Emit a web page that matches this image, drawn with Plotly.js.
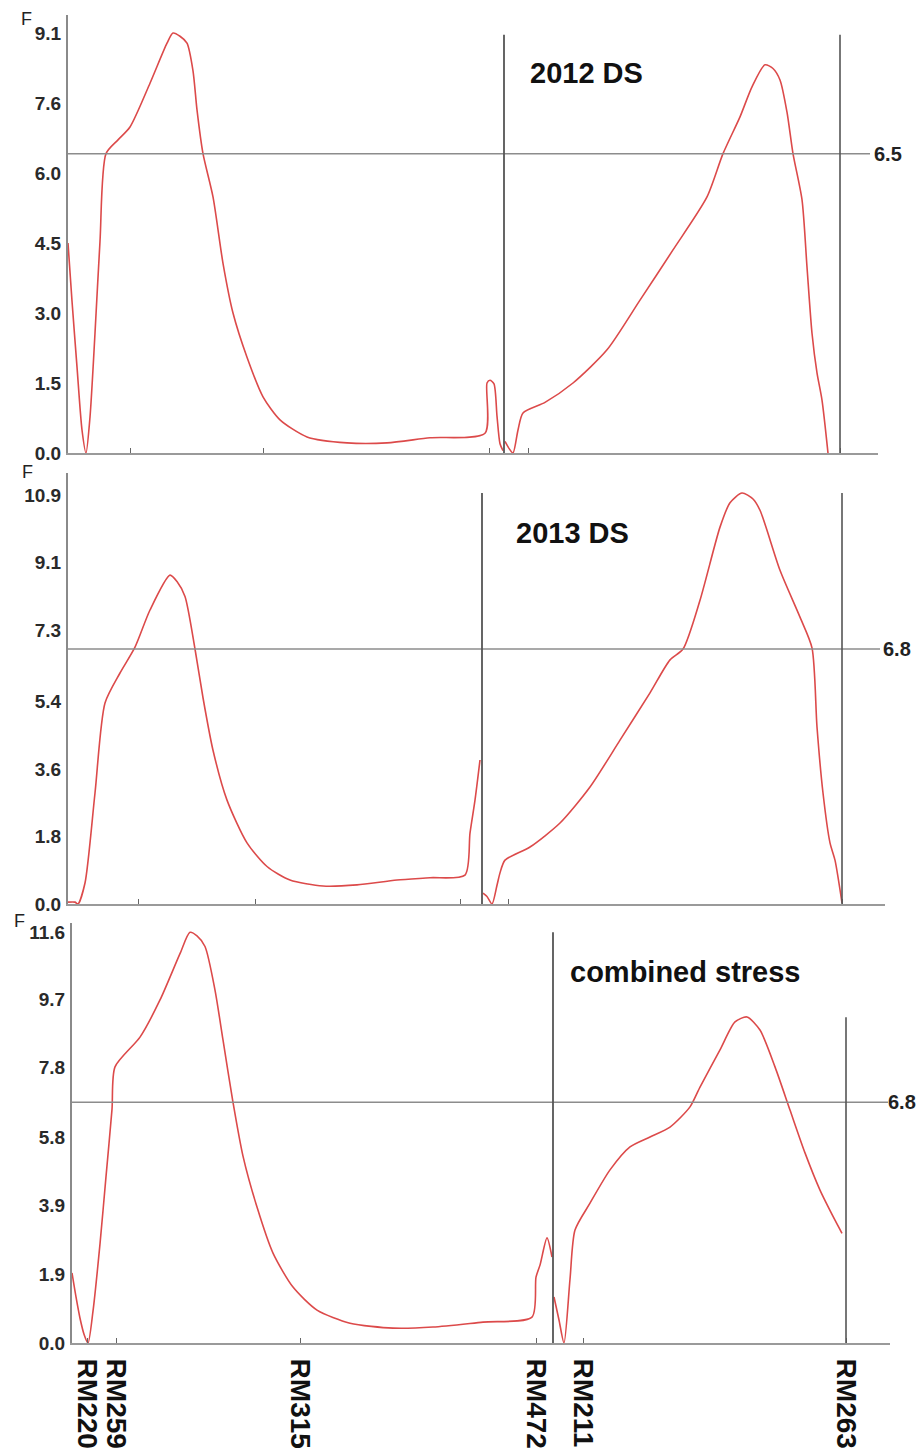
<!DOCTYPE html>
<html>
<head>
<meta charset="utf-8">
<script src="https://cdn.plot.ly/plotly-3.0.1.min.js"></script>
<style>html,body{margin:0;padding:0;background:#fff;}#chart{width:921px;height:1450px;}</style>
</head>
<body>
<div id="chart"></div>
<script>
// ---- Data (positions in cM along the scanned linkage groups, F statistic) ----
const markers = ["RM220", "RM259", "RM315", "RM472", "RM211", "RM263"];
const markerPos2012 = [0, 15.5, 48.75, 105.25, 115, 193];
const markerPos2013 = [0, 17.5, 46.75, 98, 110, 193.5];
const markerPosComb = [3.75, 11, 57, 116, 127.75, 193.5];

const panelNames = ["2012 DS", "2013 DS", "combined stress"];
const thresholds = [6.5, 6.8, 6.8];
const boundaryPos = [109, 103.5, 120.25];

const yTicks2012 = [0, 1.52, 3.04, 4.56, 6.08, 7.6, 9.12];
const yTickText2012 = ["0.0", "1.5", "3.0", "4.5", "6.0", "7.6", "9.1"];
const yTicks2013 = [0, 1.8, 3.6, 5.4, 7.3, 9.1, 10.9];
const yTickText2013 = ["0.0", "1.8", "3.6", "5.4", "7.3", "9.1", "10.9"];
const yTicksComb = [0, 1.95, 3.9, 5.8, 7.8, 9.7, 11.6];
const yTickTextComb = ["0.0", "1.9", "3.9", "5.8", "7.8", "9.7", "11.6"];

// 2012 DS
const pos2012A = [0, 1, 2.25, 3.5, 4.5, 5.5, 6.75, 8, 9.5, 12.5, 15.5, 20.5, 24.75, 26.25, 28, 29.75, 31.25, 32.25, 33.75, 36.25, 38.75, 41.25, 44.75, 48.75, 53, 59.75, 69.75, 79.75, 90.5, 104.25, 104.75, 105.5, 106.5, 107.25, 108, 108.75];
const f2012A   = [4.56, 3.3, 1.87, 0.5, 0, 0.78, 2.6, 4.6, 6.5, 6.8, 7.08, 8.03, 8.9, 9.12, 9.05, 8.9, 8.3, 7.45, 6.5, 5.56, 4.12, 3.04, 2.08, 1.22, 0.72, 0.35, 0.22, 0.22, 0.33, 0.43, 1.52, 1.58, 1.5, 0.8, 0.2, 0.05];
const pos2012B = [109.25, 110.25, 111.25, 112.5, 113.75, 119.25, 126.25, 134.75, 143, 151.25, 159.75, 163.75, 168, 171, 174.25, 176.25, 178, 179.75, 181.25, 183.5, 184.75, 186, 187.25, 188.5, 190];
const f2012B   = [0.25, 0.1, 0, 0.5, 0.87, 1.1, 1.52, 2.24, 3.32, 4.41, 5.56, 6.5, 7.3, 7.95, 8.43, 8.35, 8.1, 7.4, 6.5, 5.5, 4.04, 2.6, 1.74, 1.15, 0];

// 2013 DS
const pos2013A = [0, 1.75, 2.5, 4.25, 6.75, 9.25, 13, 16.75, 20.5, 25.5, 27.25, 29.25, 31.75, 33.75, 36.25, 39.75, 44.75, 49.75, 55.5, 63.75, 72.25, 82.25, 90.5, 99.25, 100.5, 101.75, 103];
const f2013A   = [0.05, 0.05, 0, 0.56, 2.96, 5.36, 6.16, 6.85, 7.84, 8.77, 8.6, 8.2, 6.8, 5.5, 4.1, 2.77, 1.63, 1.0, 0.64, 0.48, 0.51, 0.64, 0.7, 0.77, 1.89, 2.77, 3.84];
const pos2013B = [103.75, 104.75, 106, 107.25, 108, 109.25, 115.5, 123, 130.5, 138, 145.5, 150.5, 153.75, 158, 163, 165.5, 168.5, 171.25, 173, 178, 183, 186, 187.25, 188.75, 190.5, 191.75, 193.5];
const f2013B   = [0.29, 0.2, 0, 0.5, 0.83, 1.17, 1.52, 2.16, 3.12, 4.37, 5.63, 6.51, 6.8, 8.1, 10.05, 10.7, 10.96, 10.8, 10.5, 8.9, 7.65, 6.83, 4.72, 2.96, 1.63, 1.17, 0.03];

// combined stress
const posCombA = [0, 1, 2, 3, 4, 5.25, 7, 8.5, 10, 10.75, 17, 22, 27, 29.5, 31.25, 33.25, 35.75, 37.75, 40.25, 42.75, 46.25, 50.25, 55.25, 61.25, 69.5, 80.25, 90.25, 102.75, 115, 116, 117, 118.75, 120];
const fCombA   = [1.98, 1.3, 0.7, 0.25, 0, 0.9, 2.8, 4.7, 6.6, 7.8, 8.64, 9.69, 11.0, 11.6, 11.5, 11.2, 9.97, 8.56, 6.8, 5.28, 3.84, 2.54, 1.58, 0.93, 0.56, 0.42, 0.45, 0.59, 0.73, 1.86, 2.2, 2.97, 2.43];
const posCombB = [120.5, 121.75, 123, 124.5, 125.75, 129.5, 134.5, 139.5, 144.5, 149.5, 154.5, 157, 162, 165.75, 168.75, 172, 175.75, 179.5, 183.25, 187, 190.75, 192.5];
const fCombB   = [1.3, 0.65, 0, 1.8, 3.19, 3.95, 4.89, 5.54, 5.82, 6.1, 6.67, 7.23, 8.28, 9.07, 9.21, 8.84, 7.8, 6.58, 5.37, 4.32, 3.47, 3.1];

// ---- Layout geometry (pixels of the 921x1450 page) ----
const W = 921, H = 1450;
const geo = [
  {x0: 68, x1: 878, yb: 453, yt: 15, ppu: 46.05, thrEnd: 200.5, divTop: 9.08, endTop: 9.08, lblX: 872, titleX: 586, titleY: 73, fX: 26, fY: 19},
  {x0: 68, x1: 885, yb: 904, yt: 473, ppu: 37.5, thrEnd: 203, divTop: 10.96, endTop: 10.96, lblX: 881, titleX: 572, titleY: 533, fX: 27, fY: 472},
  {x0: 72, x1: 890, yb: 1343, yt: 923, ppu: 35.4, thrEnd: 204, divTop: 11.6, endTop: 9.2, lblX: 886, titleX: 685, titleY: 972, fX: 19, fY: 921}
];
const xPerPx = 0.25;

const series = [
  [[pos2012A, f2012A], [pos2012B, f2012B]],
  [[pos2013A, f2013A], [pos2013B, f2013B]],
  [[posCombA, fCombA], [posCombB, fCombB]]
];
const markerPos = [markerPos2012, markerPos2013, markerPosComb];
const yT = [[yTicks2012, yTickText2012], [yTicks2013, yTickText2013], [yTicksComb, yTickTextComb]];

const FONT = "Liberation Sans, Arial, sans-serif";
const red = "#dc4a4a";
const traces = [];
const shapes = [];
const annotations = [];
const layout = {
  width: W, height: H,
  margin: {l: 0, r: 0, t: 0, b: 0},
  paper_bgcolor: "#fff", plot_bgcolor: "rgba(0,0,0,0)",
  showlegend: false,
  font: {family: FONT, color: "#222"}
};

geo.forEach((g, i) => {
  const n = i + 1;
  const xa = n === 1 ? "x" : "x" + n;
  const ya = n === 1 ? "y" : "y" + n;
  const xRange = [0, (g.x1 - g.x0) * xPerPx];
  const yRange = [0, (g.yb - g.yt) / g.ppu];
  series[i].forEach(s => {
    traces.push({x: s[0], y: s[1], xaxis: xa, yaxis: ya, type: "scatter", mode: "lines",
      line: {color: red, width: 1.6, shape: "spline", smoothing: 0.7}, hoverinfo: "skip", cliponaxis: true});
  });
  const isLast = i === 2;
  layout["xaxis" + (n === 1 ? "" : n)] = {
    domain: [g.x0 / W, g.x1 / W], range: xRange, anchor: ya,
    showline: true, linecolor: "#9a9a9a", linewidth: 2,
    showgrid: false, zeroline: false,
    tickmode: "array", tickvals: markerPos[i],
    ticktext: isLast ? markers : markers.map(() => ""),
    showticklabels: isLast,
    ticks: "inside", ticklen: 5, tickcolor: "#666", tickwidth: 1,
    tickangle: 90, ticklabelstandoff: 8,
    tickfont: {family: FONT, size: 28, color: "#111", weight: "bold"},
    fixedrange: true
  };
  layout["yaxis" + (n === 1 ? "" : n)] = {
    domain: [(H - g.yb) / H, (H - g.yt) / H], range: yRange, anchor: xa,
    showline: true, linecolor: "#8a8a8a", linewidth: 2,
    showgrid: false, zeroline: false,
    tickmode: "array", tickvals: yT[i][0], ticktext: yT[i][1],
    ticks: "", ticklabelstandoff: 1,
    tickfont: {family: FONT, size: 19, color: "#2a2a2a", weight: "bold"},
    fixedrange: true
  };
  // threshold line
  shapes.push({type: "line", xref: xa, yref: ya, x0: 0, x1: g.thrEnd, y0: thresholds[i], y1: thresholds[i],
    line: {color: "#8c8c8c", width: 1.6}});
  // linkage-group boundary and end lines
  shapes.push({type: "line", xref: xa, yref: ya, x0: boundaryPos[i], x1: boundaryPos[i], y0: 0, y1: g.divTop,
    line: {color: "#555", width: 1.8}});
  const endPos = markerPos[i][markerPos[i].length - 1];
  shapes.push({type: "line", xref: xa, yref: ya, x0: endPos, x1: endPos, y0: 0, y1: g.endTop,
    line: {color: "#555", width: 1.6}});
  // threshold label
  annotations.push({xref: "paper", yref: ya, x: g.lblX / W, y: thresholds[i], xanchor: "left", yanchor: "middle",
    text: thresholds[i].toFixed(1), showarrow: false,
    font: {family: FONT, size: 20, color: "#222", weight: "bold"}});
  // panel title
  annotations.push({xref: "paper", yref: "paper", x: g.titleX / W, y: (H - g.titleY) / H, xanchor: "center", yanchor: "middle",
    text: panelNames[i], showarrow: false,
    font: {family: FONT, size: 29, color: "#111", weight: "bold"}});
  // F label
  annotations.push({xref: "paper", yref: "paper", x: g.fX / W, y: (H - g.fY) / H, xanchor: "center", yanchor: "middle",
    text: "F", showarrow: false, font: {family: FONT, size: 18, color: "#222"}});
});

layout.shapes = shapes;
layout.annotations = annotations;

Plotly.newPlot("chart", traces, layout, {displayModeBar: false, staticPlot: true});
</script>
</body>
</html>
